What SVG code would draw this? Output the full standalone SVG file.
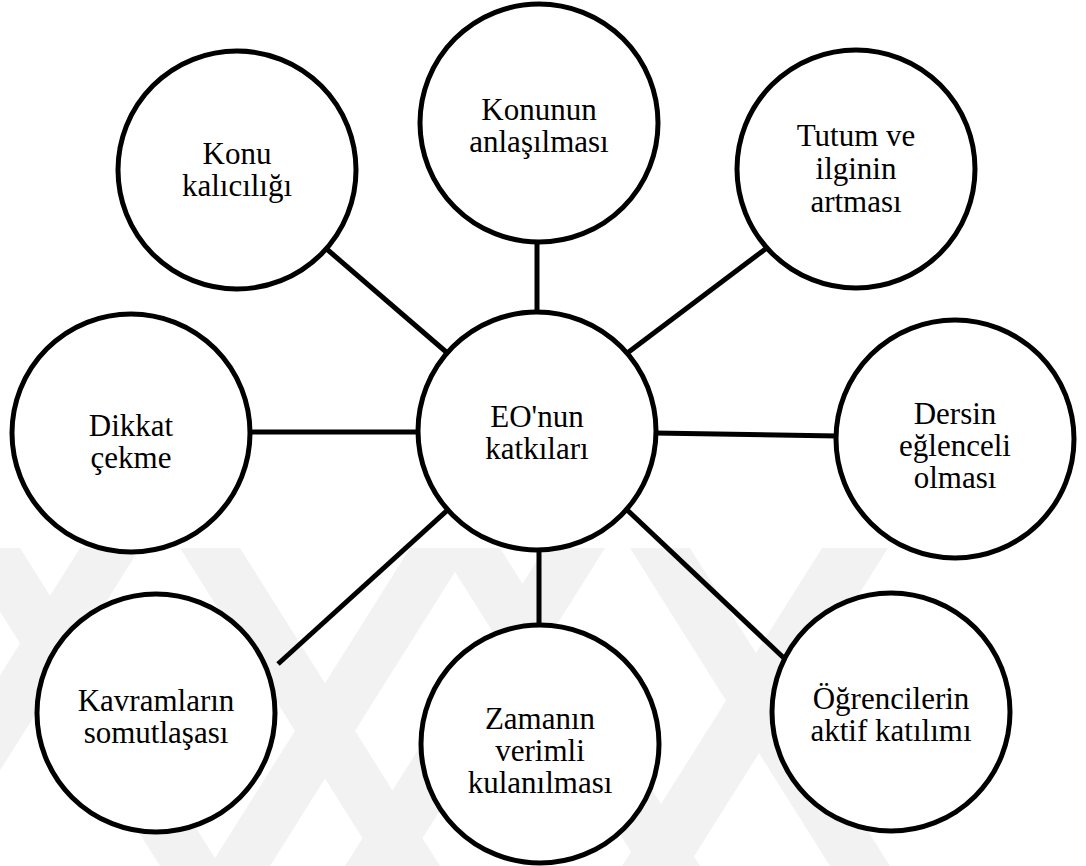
<svg xmlns="http://www.w3.org/2000/svg" width="1086" height="866" viewBox="0 0 1086 866">
  <style>
    .bg { fill: #ffffff; }
    .wm { fill: #f2f2f2; }
    .link { stroke: #000000; stroke-width: 5; fill: none; }
    .node circle { fill: #ffffff; stroke: #000000; stroke-width: 5; }
    .node text { font-size: 31px; fill: #000000; text-anchor: middle; }
  </style>

  <rect class="bg" x="0" y="0" width="1086" height="866"/>

  <!-- faint background stripes -->
  <g id="backdrop">
    <polygon class="wm" points="-40,548 20,548 220,866 160,866"/>
    <polygon class="wm" points="80,548 140,548 -60,866 -120,866"/>
    <polygon class="wm" points="410,548 470,548 270,866 210,866"/>
    <polygon class="wm" points="180,548 240,548 440,866 380,866"/>
    <polygon class="wm" points="545,548 605,548 405,866 345,866"/>
    <polygon class="wm" points="440,548 500,548 700,866 640,866"/>
    <polygon class="wm" points="822,548 888,548 688,866 622,866"/>
    <polygon class="wm" points="630,548 690,548 890,866 830,866"/>
  </g>

  <!-- spokes from the hub to each outer node -->
  <g id="connectors">
    <line class="link" x1="537" y1="240" x2="537" y2="315"/>
    <line class="link" x1="322" y1="245" x2="452" y2="357"/>
    <line class="link" x1="768" y1="247" x2="622" y2="357"/>
    <line class="link" x1="250" y1="432" x2="420" y2="432"/>
    <line class="link" x1="654" y1="433" x2="838" y2="436"/>
    <line class="link" x1="452" y1="506" x2="278" y2="664"/>
    <line class="link" x1="539" y1="547" x2="539" y2="627"/>
    <line class="link" x1="624" y1="507" x2="786" y2="660"/>
  </g>

  <g font-family="'Liberation Serif', 'Times New Roman', Tinos, 'DejaVu Serif', serif">
    <g id="hub" class="node">
      <circle cx="537" cy="431" r="119"/>
      <text x="537" y="427">EO'nun<tspan x="537" dy="32">katkıları</tspan></text>
    </g>

    <g id="node-konunun" class="node">
      <circle cx="539" cy="123" r="119"/>
      <text x="539" y="120">Konunun<tspan x="539" dy="32">anlaşılması</tspan></text>
    </g>

    <g id="node-tutum" class="node">
      <circle cx="856" cy="169" r="119"/>
      <text x="856" y="146">Tutum ve<tspan x="856" dy="33">ilginin</tspan><tspan x="856" dy="33">artması</tspan></text>
    </g>

    <g id="node-konu" class="node">
      <circle cx="237" cy="170" r="119"/>
      <text x="237" y="164">Konu<tspan x="237" dy="32">kalıcılığı</tspan></text>
    </g>

    <g id="node-dikkat" class="node">
      <circle cx="131" cy="433" r="119"/>
      <text x="131" y="436">Dikkat<tspan x="131" dy="32">çekme</tspan></text>
    </g>

    <g id="node-dersin" class="node">
      <circle cx="955" cy="439" r="119"/>
      <text x="955" y="424">Dersin<tspan x="955" dy="32">eğlenceli</tspan><tspan x="955" dy="32">olması</tspan></text>
    </g>

    <g id="node-kavramlar" class="node">
      <circle cx="156" cy="713" r="119"/>
      <text x="156" y="711">Kavramların<tspan x="156" dy="32">somutlaşası</tspan></text>
    </g>

    <g id="node-zaman" class="node">
      <circle cx="540" cy="744" r="119"/>
      <text x="540" y="729">Zamanın<tspan x="540" dy="32">verimli</tspan><tspan x="540" dy="32">kulanılması</tspan></text>
    </g>

    <g id="node-ogrenci" class="node">
      <circle cx="891" cy="712" r="119"/>
      <text x="891" y="709">Öğrencilerin<tspan x="891" dy="32">aktif katılımı</tspan></text>
    </g>
  </g>
</svg>
